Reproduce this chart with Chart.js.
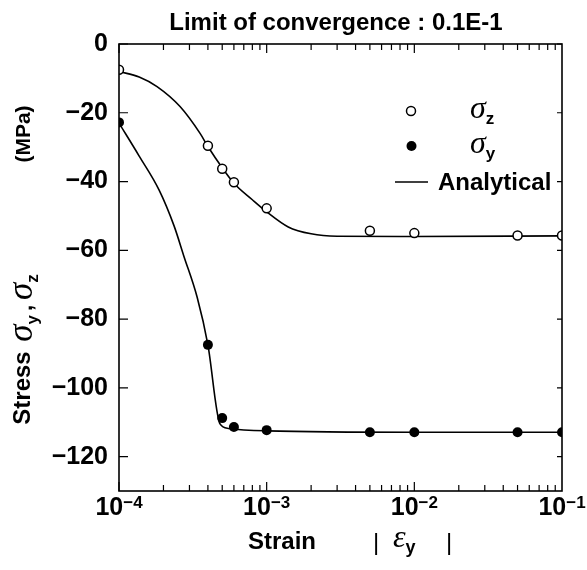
<!DOCTYPE html>
<html><head><meta charset="utf-8">
<script src="https://cdn.jsdelivr.net/npm/chart.js@4"></script>
<style>html,body{margin:0;padding:0;background:#fff}canvas{display:block}</style>
</head><body>
<canvas id="c" width="587" height="570"></canvas>
<script>
// ---- data ----
const strainPoints = [1e-4, 4e-4, 5e-4, 6e-4, 1e-3, 5e-3, 1e-2, 5e-2, 1e-1];
const sigmaZ = [-7.5, -29.6, -36.3, -40.2, -47.8, -54.3, -55.0, -55.7, -55.7];
const sigmaY = [-22.8, -87.5, -108.8, -111.4, -112.3, -112.9, -112.9, -112.9, -112.9];

const analyticZStrain = [1e-4, 1.37e-4, 1.81e-4, 2.59e-4, 3.54e-4, 4e-4, 5e-4, 6e-4, 8e-4, 1e-3, 1.4e-3, 2e-3, 3e-3, 1e-2, 1e-1];
const analyticZ = [-8, -9.6, -12.4, -18.2, -26, -29.8, -36.0, -40.5, -45.3, -48.8, -53.2, -55.2, -55.9, -56.0, -55.8];

const analyticYStrain = [1e-4, 1.37e-4, 1.87e-4, 2.36e-4, 2.75e-4, 3.38e-4, 4e-4, 4.83e-4, 5.5e-4, 1e-3, 1e-2, 1e-1];
const analyticY = [-23, -32.6, -42.5, -52.9, -61.7, -73.6, -87.5, -110.5, -111.8, -112.5, -112.9, -112.9];

const xTickValues = [1e-4, 1e-3, 1e-2, 1e-1];
const xTickExponents = ['\u22124', '\u22123', '\u22122', '\u22121'];
const yMin = -130, yMax = 0, yStep = 20;

const titleText = 'Limit of convergence : 0.1E-1';

const pts = (xs, ys) => xs.map((x, i) => ({x: x, y: ys[i]}));

const SANS = '"Liberation Sans", Arial, Helvetica, sans-serif';
const SERIF = '"Liberation Serif", "Times New Roman", serif';

function drawRun(ctx, parts, x, y, align) {
  let w = 0;
  parts.forEach(p => { ctx.font = p.font; p.w = ctx.measureText(p.t).width; w += p.w + (p.gap || 0); });
  let cx = align === 'center' ? x - w / 2 : (align === 'right' ? x - w : x);
  ctx.textAlign = 'left';
  parts.forEach(p => { ctx.font = p.font; ctx.fillText(p.t, cx, y + (p.dy || 0)); cx += p.w + (p.gap || 0); });
}

const decor = {
  id: 'decor',
  afterDraw(chart) {
    const ctx = chart.ctx, a = chart.chartArea;
    const xs = chart.scales.x, ys = chart.scales.y;
    ctx.save();
    ctx.strokeStyle = '#000'; ctx.fillStyle = '#000';
    // frame
    ctx.lineWidth = 1.6;
    ctx.strokeRect(a.left, a.top, a.right - a.left, a.bottom - a.top);
    // x ticks (inward, top and bottom)
    ctx.lineWidth = 1.2;
    ctx.beginPath();
    for (let e = -4; e < -1; e++) {
      for (let m = 1; m <= 9; m++) {
        const v = m * Math.pow(10, e);
        const px = xs.getPixelForValue(v);
        const len = m === 1 ? 9 : 6;
        ctx.moveTo(px, a.bottom); ctx.lineTo(px, a.bottom - len);
        ctx.moveTo(px, a.top); ctx.lineTo(px, a.top + len);
      }
    }
    // y ticks (inward)
    for (let v = yMax; v >= yMin; v -= yStep) {
      const py = ys.getPixelForValue(v);
      ctx.moveTo(a.left, py); ctx.lineTo(a.left + 9, py);
      ctx.moveTo(a.right, py); ctx.lineTo(a.right - 5, py);
    }
    ctx.stroke();
    // x tick labels 10^n
    ctx.textBaseline = 'alphabetic';
    xTickValues.forEach((v, i) => {
      const px = xs.getPixelForValue(v);
      drawRun(ctx, [
        {t: '10', font: 'bold 25px ' + SANS},
        {t: xTickExponents[i], font: 'bold 17px ' + SANS, dy: -7, gap: 0}
      ], px, a.bottom + 24, 'center');
    });
    // x title
    drawRun(ctx, [{t: 'Strain', font: 'bold 24px ' + SANS}], 248, 549, 'left');
    ctx.font = '24px ' + SANS;
    ctx.fillText('|', 373, 550);
    ctx.fillText('|', 446, 550);
    drawRun(ctx, [
      {t: '\u03b5', font: 'italic 32px ' + SERIF},
      {t: 'y', font: 'bold 18px ' + SANS, dy: 6}
    ], 393, 547, 'left');
    // y title (rotated)
    ctx.save();
    ctx.translate(30, 0);
    ctx.rotate(-Math.PI / 2);
    ctx.textBaseline = 'alphabetic';
    drawRun(ctx, [{t: 'Stress', font: 'bold 24px ' + SANS}], -388, 0, 'center');
    drawRun(ctx, [
      {t: '\u03c3', font: 'italic 35px ' + SERIF},
      {t: 'y', font: 'bold 17px ' + SANS, dy: 6, gap: 4},
      {t: ',', font: 'bold 22px ' + SANS, gap: 5},
      {t: '\u03c3', font: 'italic 35px ' + SERIF},
      {t: 'z', font: 'bold 17px ' + SANS, dy: 6}
    ], -308, 2, 'center');
    drawRun(ctx, [{t: '(MPa)', font: 'bold 21px ' + SANS}], -134, 0, 'center');
    ctx.restore();
    // legend
    ctx.lineWidth = 1.5;
    ctx.beginPath(); ctx.arc(411, 111, 4.5, 0, Math.PI * 2);
    ctx.fillStyle = '#fff'; ctx.fill(); ctx.stroke();
    ctx.fillStyle = '#000';
    ctx.beginPath(); ctx.arc(411.5, 146, 5, 0, Math.PI * 2); ctx.fill();
    drawRun(ctx, [
      {t: '\u03c3', font: 'italic 32px ' + SERIF},
      {t: 'z', font: 'bold 17px ' + SANS, dy: 6}
    ], 470, 118, 'left');
    drawRun(ctx, [
      {t: '\u03c3', font: 'italic 32px ' + SERIF},
      {t: 'y', font: 'bold 17px ' + SANS, dy: 6}
    ], 470, 153, 'left');
    ctx.beginPath(); ctx.moveTo(395, 182); ctx.lineTo(428, 182); ctx.stroke();
    drawRun(ctx, [{t: 'Analytical', font: 'bold 24px ' + SANS}], 438, 190, 'left');
    // title
    drawRun(ctx, [{t: titleText, font: 'bold 24px ' + SANS}], 336, 30, 'center');
    ctx.restore();
  }
};

new Chart(document.getElementById('c'), {
  type: 'scatter',
  data: {
    datasets: [
      { label: 'σz', data: pts(strainPoints, sigmaZ), pointRadius: 4.5, pointBorderWidth: 1.5,
        pointBackgroundColor: '#fff', pointBorderColor: '#000', showLine: false, order: 1 },
      { label: 'σy', data: pts(strainPoints, sigmaY), pointRadius: 5, pointBorderWidth: 0,
        pointBackgroundColor: '#000', pointBorderColor: '#000', showLine: false, order: 2 },
      { label: 'Analytical z', data: pts(analyticZStrain, analyticZ), showLine: true, pointRadius: 0,
        borderColor: '#000', borderWidth: 1.6, cubicInterpolationMode: 'monotone', order: 3 },
      { label: 'Analytical y', data: pts(analyticYStrain, analyticY), showLine: true, pointRadius: 0,
        borderColor: '#000', borderWidth: 1.6, cubicInterpolationMode: 'monotone', order: 4 }
    ]
  },
  options: {
    responsive: false, animation: false, devicePixelRatio: 1,
    layout: { padding: { top: 44, right: 25, left: 0, bottom: 0 } },
    plugins: { legend: { display: false }, tooltip: { enabled: false }, title: { display: false } },
    scales: {
      x: { type: 'logarithmic', min: 1e-4, max: 1e-1,
           ticks: { display: false }, grid: { display: false, drawTicks: false }, border: { display: false },
           afterFit: s => { s.height = 79; } },
      y: { type: 'linear', min: yMin, max: yMax,
           ticks: { stepSize: yStep, color: '#000', padding: 11, font: { family: SANS, size: 25, weight: 'bold' },
                    callback: v => (v % 20 === 0 ? (v < 0 ? '\u2212' + Math.abs(v) : '0') : '') },
           grid: { display: false, drawTicks: false }, border: { display: false },
           afterFit: s => { s.width = 119; } }
    }
  },
  plugins: [decor]
});
</script>
</body></html>
